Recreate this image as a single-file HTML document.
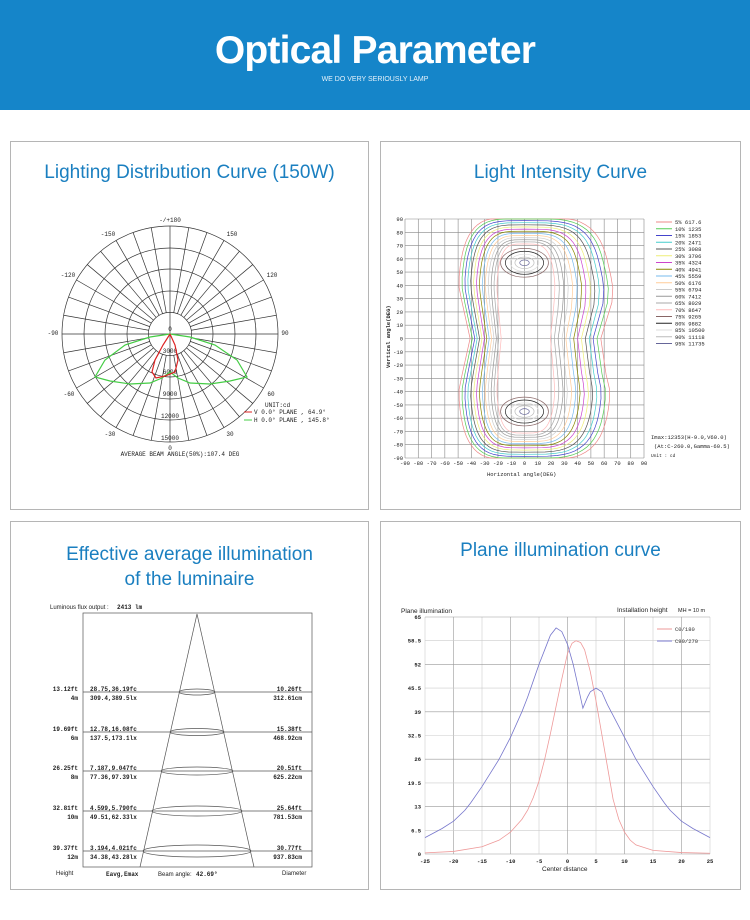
<!DOCTYPE html>
<html><head><meta charset="utf-8"><style>
body{margin:0;width:750px;height:920px;background:#fff;position:relative;overflow:hidden;font-family:"Liberation Sans",sans-serif}
.hdr{position:absolute;left:0;top:0;width:750px;height:110px;background:#1585c9}
.hdr h1{position:absolute;top:29px;width:100%;margin:0;text-align:center;color:#fff;font-size:39px;font-weight:bold;letter-spacing:-0.8px}
.hdr p{position:absolute;top:76px;width:100%;margin:0;text-align:center;color:#e6f2fa;font-size:7px}
.panel{position:absolute;border:1px solid #b5b5b5;background:#fff}
.t{position:absolute;width:100%;text-align:center;color:#1a7fc0;font-size:19px}
svg{position:absolute;left:0;top:0}
</style></head><body>
<div class="hdr"><h1>Optical Parameter</h1><p>WE DO VERY SERIOUSLY LAMP</p></div>
<div class="panel" style="left:10px;top:141px;width:357px;height:367px"><div class="t" style="top:20px">Lighting Distribution Curve (150W)</div></div>
<div class="panel" style="left:380px;top:141px;width:359px;height:367px"><div class="t" style="top:20px">Light Intensity Curve</div></div>
<div class="panel" style="left:10px;top:521px;width:357px;height:367px"><div class="t" style="top:20px;line-height:25px">Effective average illumination<br>of the luminaire</div></div>
<div class="panel" style="left:380px;top:521px;width:359px;height:367px"><div class="t" style="top:18px">Plane illumination curve</div></div>
<svg width="750" height="920" id="s" font-family="Liberation Mono, monospace">
<g id="polar" stroke="#333" stroke-width="0.7" fill="none"></g>
<g font-size="6" fill="#222" text-anchor="middle">
<text x="170" y="222">-/+180</text><text x="108" y="236">-150</text><text x="232" y="236">150</text>
<text x="68" y="277">-120</text><text x="272" y="277">120</text>
<text x="53" y="335">-90</text><text x="285" y="335">90</text>
<text x="69" y="396">-60</text><text x="271" y="396">60</text>
<text x="110" y="436">-30</text><text x="230" y="436">30</text>
<text x="170" y="331">0</text><text x="170" y="353">3000</text><text x="170" y="374">6000</text><text x="170" y="396">9000</text><text x="170" y="418">12000</text><text x="170" y="440">15000</text><text x="170" y="450">0</text>
<text x="180" y="456" text-anchor="middle">AVERAGE BEAM ANGLE(50%):107.4 DEG</text>
<text x="265" y="407" text-anchor="start">UNIT:cd</text>
<text x="254" y="414" text-anchor="start">V 0.0°  PLANE , 64.9°</text>
<text x="254" y="422" text-anchor="start">H 0.0°  PLANE , 145.8°</text>
</g>
<line x1="244" y1="412" x2="252" y2="412" stroke="#d22"/><line x1="244" y1="420" x2="252" y2="420" stroke="#4c4"/>
<polyline fill="none" stroke="#4c4" stroke-width="1.2" points="170,334 150,337 125,345 105,360 95,377 110,381 130,384 150,383 162,378 170,372 178,378 190,383 210,384 230,381 247,377 237,360 215,345 190,337 170,334"/>
<polyline fill="none" stroke="#d22" stroke-width="1.2" points="170,334 163,345 155,360 152,372 156,378 165,376 175,372 178,360 175,345 170,334"/>
<g id="grid2" stroke="#888" stroke-width="0.6"></g>
<g id="cont" fill="none" stroke-width="0.7"></g>
<g id="cl" font-size="5.5" fill="#222"></g>
<g font-size="5.5" fill="#222">
<text x="651" y="439">Imax:12353(H-9.0,V60.0)</text>
<text x="654" y="448">(At:C-260.0,Gamma-60.5)</text>
<text x="651" y="457" font-size="4.5">Unit : cd</text>
<text x="487" y="476">Horizontal angle(DEG)</text>
<text transform="translate(390,368) rotate(-90)" font-weight="bold">Vertical angle(DEG)</text>
</g>
<g stroke="#555" stroke-width="0.7" fill="none">
<rect x="83" y="613" width="229" height="254"/>
<polyline points="140,867 197,614 254,867"/>
<line x1="83" y1="692" x2="312" y2="692"/><line x1="83" y1="732" x2="312" y2="732"/><line x1="83" y1="771" x2="312" y2="771"/><line x1="83" y1="811" x2="312" y2="811"/><line x1="83" y1="851" x2="312" y2="851"/>
<ellipse cx="197" cy="692" rx="18" ry="3"/><ellipse cx="197" cy="732" rx="27" ry="3.5"/><ellipse cx="197" cy="771" rx="36" ry="4"/><ellipse cx="197" cy="811" rx="45" ry="5"/><ellipse cx="197" cy="851" rx="54" ry="6"/>
</g>
<g font-size="6" fill="#222" font-weight="bold">
<text x="50" y="609" font-family="Liberation Sans" font-weight="normal">Luminous flux output :</text><text x="117" y="609">2413 lm</text>
<g text-anchor="end"><text x="78" y="691">13.12ft</text><text x="78" y="700">4m</text><text x="78" y="731">19.69ft</text><text x="78" y="740">6m</text><text x="78" y="770">26.25ft</text><text x="78" y="779">8m</text><text x="78" y="810">32.81ft</text><text x="78" y="819">10m</text><text x="78" y="850">39.37ft</text><text x="78" y="859">12m</text>
<text x="302" y="691">10.26ft</text><text x="302" y="700">312.61cm</text><text x="302" y="731">15.38ft</text><text x="302" y="740">468.92cm</text><text x="302" y="770">20.51ft</text><text x="302" y="779">625.22cm</text><text x="302" y="810">25.64ft</text><text x="302" y="819">781.53cm</text><text x="302" y="850">30.77ft</text><text x="302" y="859">937.83cm</text></g>
<text x="90" y="691">28.75,36.19fc</text><text x="90" y="700">309.4,389.5lx</text><text x="90" y="731">12.78,16.08fc</text><text x="90" y="740">137.5,173.1lx</text><text x="90" y="770">7.187,9.047fc</text><text x="90" y="779">77.36,97.39lx</text><text x="90" y="810">4.599,5.790fc</text><text x="90" y="819">49.51,62.33lx</text><text x="90" y="850">3.194,4.021fc</text><text x="90" y="859">34.38,43.28lx</text>
<text x="106" y="876">Eavg,Emax</text><text x="158" y="876" font-family="Liberation Sans" font-weight="normal">Beam angle:</text><text x="196" y="876">42.69°</text>
<text x="56" y="875" font-family="Liberation Sans" font-weight="normal">Height</text><text x="282" y="875" font-family="Liberation Sans" font-weight="normal">Diameter</text>
</g>
<g id="grid4" stroke="#aaa" stroke-width="0.6"></g>
<g transform="translate(567.5,854) scale(5.7,-3.646)" fill="none" stroke-width="0.8">
<polyline vector-effect="non-scaling-stroke" stroke="#e99" points="-25,0.3 -20,0.7 -15,2 -12,3.8 -10,6 -8,9.5 -7,12 -6,15.5 -5,20 -4,26 -3,33 -2,40.5 -1,48 0,55 0.8,57.8 1.5,58.5 2.3,58 3,56 4,50 5,42 6,33 7,24 8,15 9,9.5 10,6 11,3.8 12,2.5 15,1 20,0.4 25,0.2"/>
<polyline vector-effect="non-scaling-stroke" stroke="#77c" points="-25,4.5 -22,7 -20,9 -18,12 -17,14 -15,18.5 -12,26 -10,32 -8,39 -7,43 -6,47.5 -5,52 -4,56 -3,60 -2,62 -1,61 0,57.5 1,52 2,45 2.7,40 3.5,43 4,44.5 5,45.5 6,44.5 7,41 8,38 10,32 12,26 15,18.5 17,14 18,12 20,9 22,7 25,4.5"/>
</g>
<g font-size="5.5" fill="#222" font-weight="bold" id="pl"></g>
<g font-size="6.5" fill="#222" font-family="Liberation Sans">
<text x="401" y="613">Plane illumination</text><text x="617" y="612">Installation height</text><text x="678" y="612" font-size="5.5">MH = 10 m</text>
<text x="542" y="871">Center distance</text>
</g>
<line x1="657" y1="629" x2="672" y2="629" stroke="#e99"/><line x1="657" y1="641" x2="672" y2="641" stroke="#77c"/>
<text x="675" y="631" font-size="5.5" fill="#333">C0/180</text><text x="675" y="643" font-size="5.5" fill="#333">C90/270</text>
</svg>
<script>
var NS="http://www.w3.org/2000/svg";
function el(p,t,a,txt){var e=document.createElementNS(NS,t);for(var k in a)e.setAttribute(k,a[k]);if(txt!=null)e.textContent=txt;document.getElementById(p).appendChild(e);return e;}
var cx=170,cy=334,R=108,ri=21.6;
[21.6,43,65,86,108].forEach(function(r){el("polar","circle",{cx:cx,cy:cy,r:r});});
for(var a=0;a<360;a+=10){var t=a*Math.PI/180;var r0=(a%90==0)?0:ri;el("polar","line",{x1:cx+r0*Math.sin(t),y1:cy+r0*Math.cos(t),x2:cx+R*Math.sin(t),y2:cy+R*Math.cos(t)});}
var X0=405,X1=644,Y0=219,Y1=458;
for(var i=0;i<=18;i++){var x=X0+(X1-X0)*i/18,y=Y0+(Y1-Y0)*i/18;
el("grid2","line",{x1:x,y1:Y0,x2:x,y2:Y1});el("grid2","line",{x1:X0,y1:y,x2:X1,y2:y});
var v=-90+10*i;el("cl","text",{x:x,y:465,"text-anchor":"middle"},v);el("cl","text",{x:403,y:Y1-(Y1-Y0)*i/18+2,"text-anchor":"end"},v);}
var cols=["#e88","#5c5","#44c","#4cc","#555","#ee7","#c4c","#880","#7be","#fc9","#ccc","#999","#aaa","#fbb","#866","#222","#ddd","#bbb","#669"];
var labs=["5% 617.6","10% 1235","15% 1853","20% 2471","25% 3088","30% 3706","35% 4324","40% 4941","45% 5559","50% 6176","55% 6794","60% 7412","65% 8029","70% 8647","75% 9265","80% 9882","85% 10500","90% 11118","95% 11735"];
function px(x){return 524.5+x*1.328}function py(y){return 338.5-y*1.328}
for(var i=0;i<19;i++){
 var ly=222+i*6.75;el("cl","line",{x1:656,y1:ly,x2:672,y2:ly,stroke:cols[i],"stroke-width":1});el("cl","text",{x:675,y:ly+2},labs[i]);
 var pts=[];
 if(i<14){var aL=50-2.2*i,aR=65-3.2*i,b=92-1.6*i;
  for(var k=0;k<=72;k++){var t=k/72*2*Math.PI,s=Math.sin(t),c=Math.cos(t);
   var a=(c>=0?aR:aL);var p=4;
   var xx=Math.sign(c)*a*Math.pow(Math.abs(c),2/p),yy=Math.sign(s)*b*Math.pow(Math.abs(s),2/p);
   var bulge=(c>0?1:0)*Math.exp(-Math.pow((yy-15)/25,2))*6*(1-i/14);
   if(Math.abs(yy)<40) xx*=0.82+0.18*Math.abs(yy)/40; xx+=bulge*c;
   pts.push(px(xx).toFixed(1)+","+py(Math.min(90,Math.max(-90,yy))).toFixed(1));}
  el("cont","polyline",{points:pts.join(" "),stroke:cols[i]});
 }else{var rr=(19-i)*2.4;
  [57,-55].forEach(function(cy2){el("cont","ellipse",{cx:px(0),cy:py(cy2),rx:rr*1.5*1.328,ry:rr*1.2,stroke:cols[i]});});}
}
var A=425,B=710,T=617,D=854;
for(var i=0;i<=10;i++){var x=A+(B-A)*i/10,y=D-(D-T)*i/10;
el("grid4","line",{x1:x,y1:T,x2:x,y2:D,stroke:(i%2?"#999":"#ccc")});el("grid4","line",{x1:A,y1:y,x2:B,y2:y,stroke:(i%2?"#ccc":"#999")});
el("pl","text",{x:x,y:863,"text-anchor":"middle"},-25+5*i);el("pl","text",{x:421,y:y+2,"text-anchor":"end"},(6.5*i).toString().replace(/\.0$/,""));}
</script>
</body></html>
